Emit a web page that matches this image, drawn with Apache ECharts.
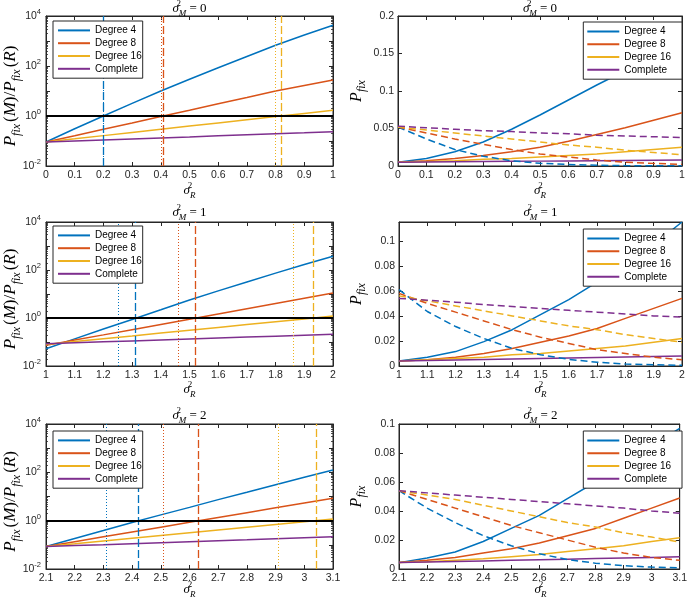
<!DOCTYPE html>
<html><head><meta charset="utf-8">
<script src="https://cdn.jsdelivr.net/npm/echarts@6/dist/echarts.min.js"></script>
<style>html,body{margin:0;padding:0;background:#fff}#c{width:690px;height:601px}</style>
</head><body><div id="c"></div>
<script>
// ---------------- DATA ----------------
const seriesNames = ['Degree 4', 'Degree 8', 'Degree 16', 'Complete'];
const sigmaM = ['0', '1', '2'];

const xRow1 = [0, 0.1, 0.2, 0.3, 0.4, 0.5, 0.6, 0.7, 0.8, 0.9, 1];
const xRow2 = [1, 1.1, 1.2, 1.3, 1.4, 1.5, 1.6, 1.7, 1.8, 1.9, 2];
const xRow3 = [2.1, 2.2, 2.3, 2.4, 2.5, 2.6, 2.7, 2.8, 2.9, 3, 3.1];
const xRange1 = [0, 1], xRange2 = [1, 2], xRange3 = [2.1, 3.1];

// Left panels: P_fix(M)/P_fix(R)
const ratio1_d4  = [0.091, 0.31, 1.0, 3.2, 10, 29.5, 85, 240, 676, 1740, 4270];
const ratio1_d8  = [0.091, 0.162, 0.295, 0.525, 0.955, 1.70, 3.09, 5.50, 10.0, 16.6, 27.5];
const ratio1_d16 = [0.091, 0.122, 0.164, 0.219, 0.294, 0.394, 0.527, 0.706, 0.946, 1.27, 1.70];
const ratio1_c   = [0.091, 0.100, 0.110, 0.121, 0.133, 0.146, 0.161, 0.177, 0.194, 0.213, 0.234];

const ratio2_d4  = [0.0525, 0.135, 0.347, 0.871, 2.19, 5.62, 13.5, 31.6, 74.1, 170, 372];
const ratio2_d8  = [0.0724, 0.120, 0.198, 0.327, 0.540, 0.891, 1.47, 2.43, 4.02, 6.64, 11.0];
const ratio2_d16 = [0.0794, 0.104, 0.137, 0.179, 0.236, 0.309, 0.406, 0.532, 0.698, 0.916, 1.20];
const ratio2_c   = [0.0851, 0.0931, 0.102, 0.111, 0.122, 0.133, 0.146, 0.160, 0.175, 0.191, 0.209];

const ratio3_d4  = [0.0851, 0.182, 0.389, 0.832, 1.74, 3.55, 7.41, 15.1, 30.9, 63.1, 126];
const ratio3_d8  = [0.0851, 0.135, 0.214, 0.339, 0.537, 0.851, 1.35, 2.14, 3.39, 5.37, 8.51];
const ratio3_d16 = [0.0851, 0.110, 0.144, 0.186, 0.242, 0.314, 0.408, 0.530, 0.689, 0.894, 1.16];
const ratio3_c   = [0.0851, 0.0933, 0.102, 0.112, 0.123, 0.135, 0.148, 0.162, 0.178, 0.195, 0.214];

const unityLevel = 1;
// threshold vertical lines (dotted, dashed) for Degree 4, 8, 16
const thrDot1  = [0.199, 0.400, 0.803];
const thrDash1 = [0.205, 0.411, 0.822];
const thrDot2  = [1.254, 1.455, 1.858];
const thrDash2 = [1.315, 1.521, 1.934];
const thrDot3  = [2.306, 2.507, 2.911];
const thrDash3 = [2.424, 2.631, 3.043];

// Right panels: P_fix (solid = M, dashed = R)
const pfixM1_d4  = [0.005, 0.010, 0.019, 0.032, 0.049, 0.068, 0.088, 0.108, 0.127, 0.145, 0.163];
const pfixM1_d8  = [0.005, 0.007, 0.010, 0.014, 0.019, 0.025, 0.033, 0.042, 0.051, 0.061, 0.071];
const pfixM1_d16 = [0.005, 0.006, 0.007, 0.009, 0.010, 0.012, 0.014, 0.016, 0.019, 0.022, 0.025];
const pfixM1_c   = [0.005, 0.0053, 0.0056, 0.0059, 0.0062, 0.0065, 0.0068, 0.0071, 0.0074, 0.0077, 0.008];
const pfixR1_d4  = [0.052, 0.036, 0.022, 0.013, 0.007, 0.0036, 0.002, 0.001, 0.0005, 0.0003, 0.0002];
const pfixR1_d8  = [0.052, 0.044, 0.036, 0.029, 0.022, 0.016, 0.012, 0.008, 0.005, 0.0035, 0.002];
const pfixR1_d16 = [0.052, 0.048, 0.044, 0.040, 0.036, 0.032, 0.028, 0.025, 0.021, 0.018, 0.015];
const pfixR1_c   = [0.053, 0.051, 0.049, 0.047, 0.046, 0.044, 0.043, 0.041, 0.040, 0.039, 0.038];

const pfixM2_d4  = [0.004, 0.007, 0.0115, 0.0195, 0.029, 0.041, 0.053, 0.067, 0.081, 0.097, 0.115];
const pfixM2_d8  = [0.004, 0.005, 0.007, 0.010, 0.014, 0.019, 0.024, 0.030, 0.038, 0.046, 0.054];
const pfixM2_d16 = [0.004, 0.005, 0.006, 0.007, 0.009, 0.010, 0.012, 0.014, 0.016, 0.019, 0.022];
const pfixM2_c   = [0.004, 0.0044, 0.0048, 0.0052, 0.0056, 0.006, 0.0064, 0.0068, 0.0072, 0.0076, 0.008];
const pfixR2_d4  = [0.061, 0.0435, 0.0315, 0.022, 0.014, 0.009, 0.0053, 0.003, 0.0016, 0.001, 0.0005];
const pfixR2_d8  = [0.058, 0.050, 0.043, 0.036, 0.029, 0.023, 0.018, 0.013, 0.010, 0.007, 0.005];
const pfixR2_d16 = [0.056, 0.052, 0.048, 0.044, 0.040, 0.036, 0.032, 0.029, 0.025, 0.022, 0.019];
const pfixR2_c   = [0.054, 0.0525, 0.051, 0.049, 0.0475, 0.046, 0.0445, 0.043, 0.0415, 0.040, 0.039];

const pfixM3_d4  = [0.0044, 0.0076, 0.0117, 0.019, 0.028, 0.037, 0.0485, 0.060, 0.072, 0.085, 0.097];
const pfixM3_d8  = [0.0044, 0.006, 0.008, 0.011, 0.014, 0.018, 0.023, 0.028, 0.035, 0.042, 0.049];
const pfixM3_d16 = [0.0044, 0.005, 0.006, 0.007, 0.0085, 0.010, 0.012, 0.014, 0.016, 0.019, 0.0215];
const pfixM3_c   = [0.0044, 0.0048, 0.0052, 0.0056, 0.006, 0.0064, 0.0068, 0.0072, 0.0076, 0.008, 0.0084];
const pfixR3_d4  = [0.054, 0.042, 0.032, 0.023, 0.016, 0.0105, 0.0065, 0.004, 0.0023, 0.0013, 0.0008];
const pfixR3_d8  = [0.054, 0.048, 0.042, 0.036, 0.030, 0.025, 0.020, 0.015, 0.011, 0.008, 0.006];
const pfixR3_d16 = [0.054, 0.051, 0.048, 0.044, 0.040, 0.036, 0.032, 0.029, 0.025, 0.022, 0.0186];
const pfixR3_c   = [0.054, 0.0525, 0.051, 0.0495, 0.048, 0.0465, 0.045, 0.0435, 0.042, 0.040, 0.0385];

const yRangeR1 = [0, 0.2],   yIntR1 = 0.05;
const yRangeR2 = [0, 0.115], yIntR2 = 0.02;
const yRangeR3 = [0, 0.1],   yIntR3 = 0.02;
const yRangeL = [0.01, 10000];

// ---------------- STYLE / LAYOUT ----------------
const COLORS = ['#0072BD', '#D95319', '#EDB120', '#7E2F8E'];
const AX = '#262626';
const SANS = '"Liberation Sans", Arial, Helvetica, sans-serif';
const SERIF = '"Liberation Serif", "Times New Roman", serif';

const gridsL = [{left:46, top:16, width:287, height:150}, {left:46, top:222, width:287, height:144}, {left:46, top:424, width:287, height:145}];
const gridsR = [{left:398, top:16, width:284, height:150}, {left:399, top:222, width:283, height:144}, {left:399, top:424, width:283, height:145}];
const legendTopL = [21, 226, 431];
const legendTopR = [22, 229, 431];
const titleY = [9, 213, 416];
const xNameY = [191, 390, 590];

const rows = [
  {x:xRow1, range:xRange1, ratio:[ratio1_d4, ratio1_d8, ratio1_d16, ratio1_c], M:[pfixM1_d4, pfixM1_d8, pfixM1_d16, pfixM1_c], R:[pfixR1_d4, pfixR1_d8, pfixR1_d16, pfixR1_c], dot:thrDot1, dash:thrDash1, yR:yRangeR1, yInt:yIntR1},
  {x:xRow2, range:xRange2, ratio:[ratio2_d4, ratio2_d8, ratio2_d16, ratio2_c], M:[pfixM2_d4, pfixM2_d8, pfixM2_d16, pfixM2_c], R:[pfixR2_d4, pfixR2_d8, pfixR2_d16, pfixR2_c], dot:thrDot2, dash:thrDash2, yR:yRangeR2, yInt:yIntR2},
  {x:xRow3, range:xRange3, ratio:[ratio3_d4, ratio3_d8, ratio3_d16, ratio3_c], M:[pfixM3_d4, pfixM3_d8, pfixM3_d16, pfixM3_c], R:[pfixR3_d4, pfixR3_d8, pfixR3_d16, pfixR3_c], dot:thrDot3, dash:thrDash3, yR:yRangeR3, yInt:yIntR3}
];

function zip(xs, ys) { return xs.map((x, i) => [x, ys[i]]); }

function mathRich(size) {
  const sub = Math.round(size * 0.72);
  const lh = size + 6;
  return {
    v:   {fontFamily:SERIF, fontStyle:'italic', fontSize:size, lineHeight:lh, verticalAlign:'middle', fill:'#000', color:'#000'},
    t:   {fontFamily:SERIF, fontSize:size, lineHeight:lh, verticalAlign:'middle', fill:'#000', color:'#000'},
    sp:  {fontFamily:SERIF, fontSize:size, lineHeight:lh, verticalAlign:'middle', width:2},
    sup: {fontFamily:SERIF, fontSize:sub, lineHeight:8, verticalAlign:'top', width:0, fill:'#000', color:'#000'},
    sub: {fontFamily:SERIF, fontStyle:'italic', fontSize:sub, lineHeight:8, verticalAlign:'bottom', fill:'#000', color:'#000'}
  };
}
function mathText(text, x, y, size, rot) {
  return {type:'text', x:x, y:y, rotation:rot || 0, silent:true, z:100,
    style:{text:text, rich:mathRich(size), align:'center', verticalAlign:'middle', textAlign:'center', textVerticalAlign:'middle', fill:'#000'}};
}

const grids = [], xAxes = [], yAxes = [], series = [], legends = [], graphics = [];
const tickStyle = {show:true, inside:true, length:4, lineStyle:{color:AX, width:1}};
const minorTickStyle = {show:true, splitNumber:9, length:2, lineStyle:{color:AX, width:0.8}};
const lineAx = {show:true, onZero:false, lineStyle:{color:AX, width:1}};
const lblStyle = {fontSize:10.5, fontFamily:SANS, color:AX};

rows.forEach((row, r) => {
  [0, 1].forEach(side => {
    const gi = grids.length;
    const g = side === 0 ? gridsL[r] : gridsR[r];
    grids.push(Object.assign({show:true, borderColor:AX, borderWidth:1, backgroundColor:'#fff', containLabel:false}, g));
    const xb = {type:'value', gridIndex:gi, min:row.range[0], max:row.range[1], interval:0.1, splitLine:{show:false}, axisLine:lineAx, axisTick:tickStyle};
    xAxes.push(Object.assign({}, xb, {position:'bottom', axisLabel:Object.assign({show:true, margin:4}, lblStyle)}));
    xAxes.push(Object.assign({}, xb, {position:'top', axisLabel:{show:false}}));
    let yb;
    if (side === 0) {
      yb = {type:'log', logBase:10, gridIndex:gi, min:yRangeL[0], max:yRangeL[1], splitLine:{show:false}, minorSplitLine:{show:false},
        axisLine:lineAx, axisTick:tickStyle, minorTick:minorTickStyle};
      yAxes.push(Object.assign({}, yb, {position:'left', axisLabel:{show:true, margin:5,
        formatter: v => { const e = Math.round(Math.log10(v)); return (e % 2 === 0) ? '{b|10}{e|' + e + '}' : ''; },
        rich:{b:{fontSize:10.5, fontFamily:SANS, color:AX, lineHeight:16, verticalAlign:'middle'},
              e:{fontSize:7.5, fontFamily:SANS, color:AX, lineHeight:7, verticalAlign:'top'}}}}));
    } else {
      yb = {type:'value', gridIndex:gi, min:row.yR[0], max:row.yR[1], interval:row.yInt, splitLine:{show:false}, axisLine:lineAx, axisTick:tickStyle};
      yAxes.push(Object.assign({}, yb, {position:'left', axisLabel:Object.assign({show:true, margin:4, showMaxLabel: r !== 1}, lblStyle)}));
    }
    yAxes.push(Object.assign({}, yb, {position:'right', axisLabel:{show:false}}));
    const xi = gi * 2, yi = gi * 2;

    for (let k = 0; k < 4; k++) {
      const s = {type:'line', name:seriesNames[k], xAxisIndex:xi, yAxisIndex:yi, showSymbol:false, symbol:'none',
        data: zip(row.x, side === 0 ? row.ratio[k] : row.M[k]), color:COLORS[k],
        lineStyle:{color:COLORS[k], width:1.5}, itemStyle:{color:COLORS[k]}, z:3, silent:true, animation:false};
      if (side === 0 && k < 3) {
        s.markLine = {silent:true, symbol:['none','none'], label:{show:false}, animation:false, emphasis:{disabled:true},
          data:[{xAxis:row.dot[k], lineStyle:{color:COLORS[k], type:[1,2], width:1}},
                {xAxis:row.dash[k], lineStyle:{color:COLORS[k], type:[8,3], width:1.3}}]};
      }
      series.push(s);
    }
    if (side === 0) {
      series.push({type:'line', name:'unity', xAxisIndex:xi, yAxisIndex:yi, data:[], z:4, silent:true, animation:false,
        markLine:{silent:true, symbol:['none','none'], label:{show:false}, animation:false, emphasis:{disabled:true},
          data:[{yAxis:unityLevel, lineStyle:{color:'#000', type:'solid', width:1.8}}]}});
    } else {
      for (let k = 0; k < 4; k++) {
        series.push({type:'line', name:seriesNames[k] + ' (R)', xAxisIndex:xi, yAxisIndex:yi, showSymbol:false, symbol:'none',
          data: zip(row.x, row.R[k]), color:COLORS[k],
          lineStyle:{color:COLORS[k], width:1.5, type:[7,4]}, itemStyle:{color:COLORS[k]}, z:3, silent:true, animation:false});
      }
    }

    const leg = {data:seriesNames.slice(), orient:'vertical', selectedMode:false, icon:'rect', itemWidth:32, itemHeight:2, itemGap:0,
      backgroundColor:'#fff', borderColor:AX, borderWidth:1, borderRadius:0, z:10,
      textStyle:{fontSize:10, fontFamily:SANS, color:'#000', lineHeight:12.8}};
    if (side === 0) { leg.left = 53; leg.top = legendTopL[r]; leg.padding = [3, 1, 3, 5]; }
    else { leg.right = 690 - (g.left + g.width); leg.top = legendTopR[r]; leg.padding = [3, 11, 3, 4]; }
    legends.push(leg);

    const cx = g.left + g.width / 2;
    graphics.push(mathText('{v|σ}{sup|2}{sub|M}{t| = ' + sigmaM[r] + '}', cx, titleY[r], 13));
    graphics.push(mathText('{v|σ}{sup|2}{sub|R}', cx, xNameY[r], 13));
    const cy = g.top + g.height / 2;
    if (side === 0) graphics.push(mathText('{v|P}{sub|fix}{sp|}{t|(}{v|M}{t|)/}{v|P}{sub|fix}{sp|}{t|(}{v|R}{t|)}', 11, cy + 5, 17, Math.PI / 2));
    else graphics.push(mathText('{v|P}{sub|fix}', 357, cy, 16, Math.PI / 2));
  });
});

const chart = echarts.init(document.getElementById('c'), null, {renderer:'canvas'});
chart.setOption({
  animation:false,
  backgroundColor:'#fff',
  grid:grids, xAxis:xAxes, yAxis:yAxes, series:series, legend:legends,
  graphic:{elements:graphics}
});
</script></body></html>
